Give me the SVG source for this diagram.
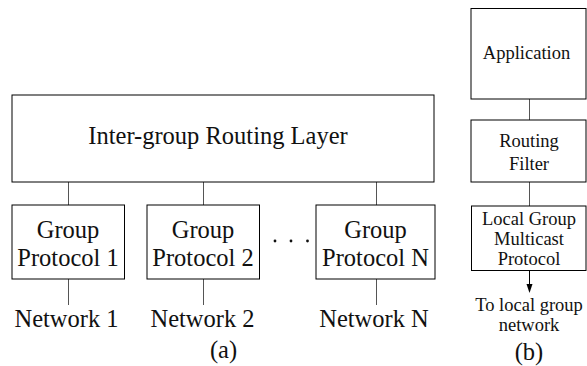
<svg xmlns="http://www.w3.org/2000/svg" width="587" height="366" viewBox="0 0 587 366">
<defs>
<style>
.box{fill:#fff;stroke:#000;stroke-width:1}
.ln{stroke:#555;stroke-width:1;fill:none}
text{font-family:'Liberation Serif',Tinos,'Nimbus Roman','Nimbus Roman No9 L',FreeSerif,'Times New Roman','DejaVu Serif',serif;fill:#111;text-anchor:middle}
.L{font-size:24.5px}
.S{font-size:18.5px}
</style>
</defs>
<g id="connectors">
<line class="ln" x1="68.5" y1="182" x2="68.5" y2="205"/>
<line class="ln" x1="203.5" y1="182" x2="203.5" y2="205"/>
<line class="ln" x1="376.5" y1="182" x2="376.5" y2="205"/>
<line class="ln" x1="68.5" y1="279" x2="68.5" y2="305"/>
<line class="ln" x1="203.5" y1="279" x2="203.5" y2="305"/>
<line class="ln" x1="376.5" y1="279" x2="376.5" y2="305"/>
<line class="ln" x1="529.5" y1="99" x2="529.5" y2="120"/>
<line class="ln" x1="529.5" y1="182" x2="529.5" y2="206"/>
<path d="M529.5,271 L529.5,284" stroke="#000" stroke-width="1" fill="none"/>
<path d="M526.5,284 L532.5,284 L529.5,293 Z" fill="#000"/>
</g>
<g id="routing-layer">
<rect class="box" x="12" y="95" width="422" height="87"/>
<text class="L" x="218" y="144">Inter-group Routing Layer</text>
</g>
<g id="gp1">
<rect class="box" x="12" y="205" width="112.5" height="74"/>
<text class="L" x="68" y="238">Group</text>
<text class="L" x="68" y="266">Protocol 1</text>
</g>
<g id="gp2">
<rect class="box" x="147" y="205" width="112.5" height="74"/>
<text class="L" x="203" y="238">Group</text>
<text class="L" x="203" y="266">Protocol 2</text>
</g>
<g id="dots">
<circle cx="275" cy="241" r="1.4" fill="#111"/>
<circle cx="291" cy="241" r="1.4" fill="#111"/>
<circle cx="307.5" cy="241" r="1.4" fill="#111"/>
</g>
<g id="gpN">
<rect class="box" x="316" y="205" width="119" height="74"/>
<text class="L" x="375.5" y="238">Group</text>
<text class="L" x="375.5" y="266">Protocol N</text>
</g>
<g id="net1"><text class="L" x="66.5" y="327">Network 1</text></g>
<g id="net2"><text class="L" x="202.5" y="327">Network 2</text></g>
<g id="netN"><text class="L" x="374" y="327">Network N</text></g>
<g id="label-a"><text class="L" x="223.5" y="358">(a)</text></g>
<g id="application">
<rect class="box" x="471" y="8.5" width="115" height="90.5"/>
<text class="S" x="526.5" y="59">Application</text>
</g>
<g id="routing-filter">
<rect class="box" x="471" y="120" width="115" height="62"/>
<text class="S" x="529" y="147">Routing</text>
<text class="S" x="529" y="170">Filter</text>
</g>
<g id="local-group">
<rect class="box" x="471.5" y="206" width="114.5" height="64.5"/>
<text class="S" x="529" y="225">Local Group</text>
<text class="S" x="529" y="245">Multicast</text>
<text class="S" x="529" y="265">Protocol</text>
</g>
<g id="to-local">
<text class="S" x="529" y="311">To local group</text>
<text class="S" x="529" y="331">network</text>
</g>
<g id="label-b"><text class="L" x="529" y="360">(b)</text></g>
</svg>
